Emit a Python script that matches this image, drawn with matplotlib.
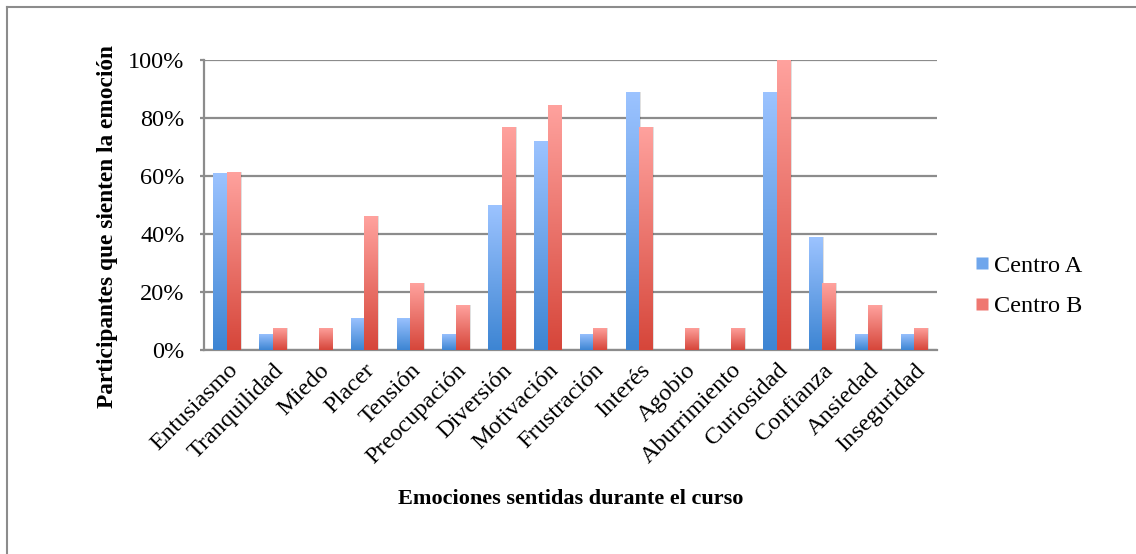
import matplotlib.pyplot as plt
from matplotlib.lines import Line2D
from matplotlib.patches import Rectangle
from matplotlib.colors import LinearSegmentedColormap
from matplotlib.ticker import PercentFormatter
import numpy as np

# data (shares of participants, in %)
emociones = ['Entusiasmo', 'Tranquilidad', 'Miedo', 'Placer', 'Tensión', 'Preocupación',
             'Diversión', 'Motivación', 'Frustración', 'Interés', 'Agobio', 'Aburrimiento',
             'Curiosidad', 'Confianza', 'Ansiedad', 'Inseguridad']
centro_a = [61.1, 5.6, 0, 11.1, 11.1, 5.6, 50.0, 72.2, 5.6, 88.9, 0, 0, 88.9, 38.9, 5.6, 5.6]
centro_b = [61.5, 7.7, 7.7, 46.2, 23.1, 15.4, 76.9, 84.6, 7.7, 76.9, 7.7, 7.7, 100.0, 23.1, 15.4, 7.7]
series_names = ['Centro A', 'Centro B']

plt.rcParams['font.family'] = 'serif'
plt.rcParams['font.serif'] = ['Liberation Serif']

blue_cmap = LinearSegmentedColormap.from_list('blue', ['#3d85d3', '#9cc3ff'])
red_cmap = LinearSegmentedColormap.from_list('red', ['#d6463a', '#ffa29e'])

fig = plt.figure(figsize=(11.36, 5.54), dpi=100)
ax = fig.add_axes([204 / 1136, 1 - 350 / 554, (937 - 204) / 1136, 290 / 554])

x = np.arange(len(emociones))
w = 0.295
grad = np.linspace(0, 1, 256).reshape(-1, 1)


def gradient_bars(xs, heights, cmap):
    for xi, h in zip(xs, heights):
        if h <= 0:
            continue
        # soft shadow
        ax.add_patch(Rectangle((xi - w / 2 + 0.03, 0), w, h, facecolor='#000000',
                               alpha=0.12, edgecolor='none', zorder=2))
        bar = Rectangle((xi - w / 2, 0), w, h, facecolor='none', edgecolor='none', zorder=3)
        ax.add_patch(bar)
        im = ax.imshow(grad, cmap=cmap, origin='lower', aspect='auto',
                       extent=[xi - w / 2, xi + w / 2, 0, h], zorder=3)
        im.set_clip_path(bar)


gradient_bars(x - w / 2, centro_a, blue_cmap)
gradient_bars(x + w / 2, centro_b, red_cmap)

ax.set_xlim(-0.5, len(emociones) - 0.5)
ax.set_ylim(0, 100)
ax.set_yticks(np.arange(0, 101, 20))
ax.yaxis.set_major_formatter(PercentFormatter(decimals=0))
ax.grid(axis='y', color='#8c8c8c', linewidth=1.6, zorder=1)
ax.set_axisbelow(True)
for s in ['top', 'right']:
    ax.spines[s].set_visible(False)
ax.spines['left'].set_color('#8c8c8c')
ax.spines['left'].set_linewidth(1.6)
ax.spines['bottom'].set_color('#8c8c8c')
ax.spines['bottom'].set_linewidth(1.6)
ax.tick_params(axis='y', length=3, color='#8c8c8c', width=1.6, labelsize=17.5, pad=11)
ax.tick_params(axis='x', length=0, labelsize=17.5, pad=7)
ax.set_xticks(x)
ax.set_xticklabels(emociones, rotation=45, ha='right', rotation_mode='anchor')

ax.set_ylabel('Participantes que sienten la emoción', fontsize=16.8, fontweight='bold')
ax.yaxis.set_label_coords(-0.117, 0.424)
ax.set_xlabel('Emociones sentidas durante el curso', fontsize=16, fontweight='bold', labelpad=15)

handles = [Line2D([], [], marker='s', linestyle='none', markersize=9,
                  markerfacecolor=c, markeredgecolor='none') for c in ['#6fa6ec', '#ef7770']]
fig.legend(handles, series_names, loc='center left', bbox_to_anchor=(948 / 1136, 1 - 286 / 554),
           frameon=False, fontsize=17.5, handletextpad=0.0, labelspacing=0.75, handlelength=1.0)

# chart frame
fig.add_artist(Line2D([7 / 1136, 7 / 1136], [0, 1 - 7 / 554], color='#8c8c8c', linewidth=1.5))
fig.add_artist(Line2D([7 / 1136, 1], [1 - 7 / 554, 1 - 7 / 554], color='#8c8c8c', linewidth=1.5))

fig.savefig('out.png', dpi=100)
